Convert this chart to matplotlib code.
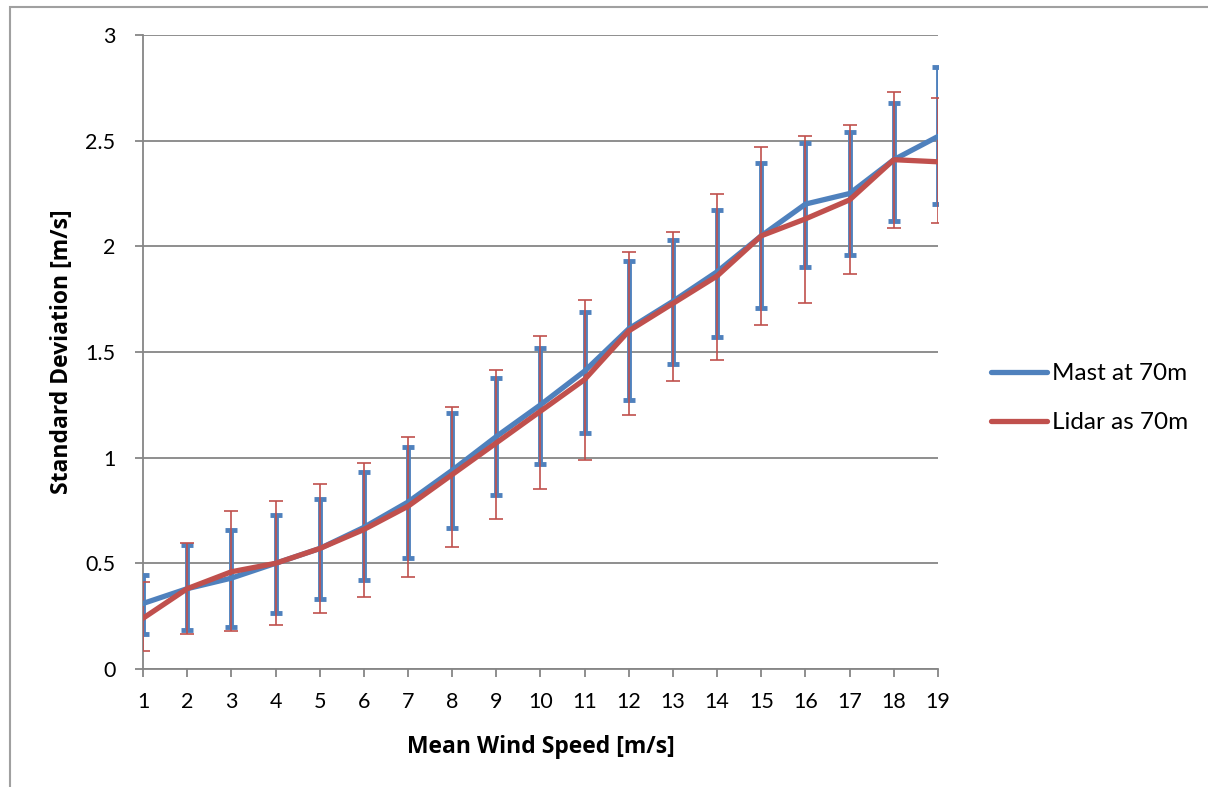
import matplotlib
matplotlib.use("Agg")
import matplotlib.pyplot as plt
from matplotlib.patches import Rectangle

# data
wind_speed = list(range(1, 20))
mast_std = [0.31, 0.38, 0.43, 0.50, 0.57, 0.67, 0.79, 0.94, 1.10, 1.25, 1.41, 1.61, 1.74, 1.88, 2.05, 2.20, 2.25, 2.41, 2.52]
lidar_std = [0.24, 0.38, 0.46, 0.50, 0.57, 0.66, 0.77, 0.92, 1.07, 1.22, 1.37, 1.60, 1.73, 1.86, 2.05, 2.13, 2.22, 2.41, 2.40]
mast_upper = [0.445, 0.587, 0.66, 0.73, 0.805, 0.93, 1.05, 1.21, 1.375, 1.52, 1.69, 1.93, 2.03, 2.17, 2.395, 2.49, 2.54, 2.68, 2.85]
mast_lower = [0.165, 0.185, 0.20, 0.265, 0.33, 0.42, 0.525, 0.665, 0.825, 0.97, 1.117, 1.275, 1.445, 1.57, 1.71, 1.90, 1.96, 2.12, 2.20]
lidar_upper = [0.41, 0.596, 0.75, 0.795, 0.875, 0.975, 1.10, 1.24, 1.415, 1.575, 1.745, 1.975, 2.07, 2.25, 2.47, 2.52, 2.575, 2.73, 2.70]
lidar_lower = [0.085, 0.165, 0.18, 0.21, 0.265, 0.34, 0.435, 0.575, 0.71, 0.85, 0.99, 1.20, 1.365, 1.46, 1.63, 1.73, 1.87, 2.085, 2.11]

blue = '#4F81BD'
red = '#C0504D'
grey = '#868686'

plt.rcParams['font.family'] = ['Lato', 'DejaVu Sans']
fs = 15.5

fig = plt.figure(figsize=(12.08, 7.87), dpi=100)
W, H = 1208, 787
ax = fig.add_axes([143 / W, 1 - 669 / H, (938 - 143) / W, (669 - 35) / H])

# outer chart border
fig.patches.append(Rectangle((10 / W, -0.1), 1.2, 1 - 7 / H + 0.1, transform=fig.transFigure,
                             fill=False, edgecolor='#A0A0A0', linewidth=1.5))

m_err = [[m - lo for m, lo in zip(mast_std, mast_lower)], [hi - m for m, hi in zip(mast_std, mast_upper)]]
l_err = [[v - lo for v, lo in zip(lidar_std, lidar_lower)], [hi - v for v, hi in zip(lidar_std, lidar_upper)]]

ax.errorbar(wind_speed, mast_std, yerr=m_err, fmt='none', ecolor=blue, elinewidth=3.5,
            capsize=4.5, capthick=3.5, zorder=3)
ax.errorbar(wind_speed, lidar_std, yerr=l_err, fmt='none', ecolor=red, elinewidth=1.2,
            capsize=5, capthick=1.2, zorder=4)
ax.plot(wind_speed, mast_std, color=blue, linewidth=3.8, label='Mast at 70m', zorder=5,
        solid_capstyle='round')
ax.plot(wind_speed, lidar_std, color=red, linewidth=3.8, label='Lidar as 70m', zorder=6,
        solid_capstyle='round')

ax.set_xlim(1, 19)
ax.set_ylim(0, 3)
ax.set_xticks(wind_speed)
ax.set_yticks([0, 0.5, 1, 1.5, 2, 2.5, 3])
ax.set_yticklabels(['0', '0.5', '1', '1.5', '2', '2.5', '3'])
ax.grid(axis='y', color=grey, linewidth=1.3)
ax.set_axisbelow(True)
for s in ['top', 'right']:
    ax.spines[s].set_visible(False)
for s in ['left', 'bottom']:
    ax.spines[s].set_color(grey)
    ax.spines[s].set_linewidth(1.3)
ax.tick_params(axis='both', colors=grey, length=5.8, width=1.3, labelcolor='black',
               labelsize=fs, direction='out')
ax.tick_params(axis='y', pad=14)
ax.tick_params(axis='x', pad=11)

lab_font = dict(fontsize=16.5, fontweight='bold', family=['Open Sans', 'DejaVu Sans'])
ax.set_xlabel('Mean Wind Speed [m/s]', labelpad=16, **lab_font)
ax.set_ylabel('Standard Deviation [m/s]', labelpad=8, **lab_font)

ax.legend(loc='center left', bbox_to_anchor=(1.052, 0.427), frameon=False, fontsize=17.5,
          handlelength=2.3, handletextpad=0.2, labelspacing=1.15, borderpad=0)

fig.savefig('out.png', dpi=100)
